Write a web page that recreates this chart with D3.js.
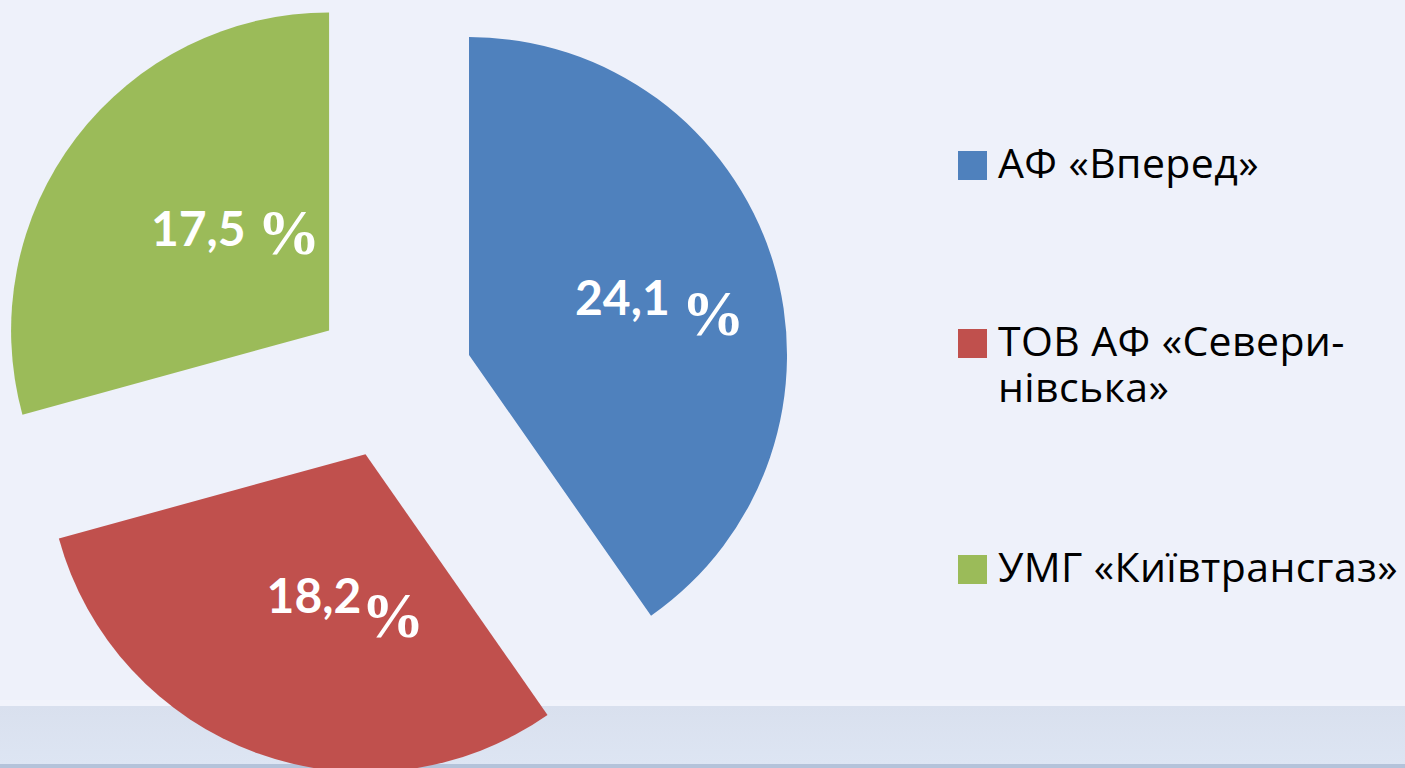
<!DOCTYPE html>
<html><head><meta charset="utf-8">
<script src="https://cdn.jsdelivr.net/npm/d3@7"></script>
<style>html,body{margin:0;padding:0;background:#eef1fa;overflow:hidden}</style>
</head><body>
<svg id="c" width="1405" height="768"></svg>
<script>
const categories = ["АФ «Вперед»", "ТОВ АФ «Севери-нівська»", "УМГ «Київтрансгаз»"];
const legendLines = [["АФ «Вперед»"], ["ТОВ АФ «Севери-", "нівська»"], ["УМГ «Київтрансгаз»"]];
const values = [24.1, 18.2, 17.5];
const valueLabels = ["24,1", "18,2", "17,5"];
const colors = ["#4f81bd", "#c0504d", "#9bbb59"];

const svg = d3.select("#c");
// background
svg.append("rect").attr("width",1405).attr("height",768).attr("fill","#eef1fa");
svg.append("rect").attr("y",700).attr("width",1405).attr("height",6).attr("fill","#f1f3fb");
const g0 = svg.append("defs").append("linearGradient").attr("id","band").attr("x1",0).attr("y1",0).attr("x2",0).attr("y2",1);
g0.append("stop").attr("offset",0).attr("stop-color","#d9e0ee");
g0.append("stop").attr("offset",1).attr("stop-color","#dde5f3");
svg.append("rect").attr("y",706).attr("width",1405).attr("height",58).attr("fill","url(#band)");
svg.append("rect").attr("y",764).attr("width",1405).attr("height",4).attr("fill","#b4c3da");

const cx = 392.7, cy = 379, R = 318, explode = 80;
const pie = d3.pie().sort(null).value(d => d)(values);
const arc = d3.arc().innerRadius(0).outerRadius(R);
const labelArc = d3.arc().innerRadius(0).outerRadius(R);
const labelNudge = [[39,-9],[34,-8],[33,-5]];
const pctShift = [20, 24, 8];

const pg = svg.append("g").attr("transform",`translate(${cx},${cy})`);
pie.forEach((p,i) => {
  const mid = (p.startAngle + p.endAngle)/2;
  const dx = Math.sin(mid)*explode, dy = -Math.cos(mid)*explode;
  const s = pg.append("g").attr("transform",`translate(${dx},${dy})`);
  s.append("path").attr("d", arc(p)).attr("fill", colors[i]);
  const c = labelArc.centroid(p);
  const t = s.append("text").attr("x", c[0]+labelNudge[i][0]).attr("y", c[1]+labelNudge[i][1]+17)
    .attr("text-anchor","middle").attr("fill","#fff");
  t.append("tspan").attr("font-family","Lato").attr("font-weight","bold").attr("font-size",48).text(valueLabels[i] + (i===1?"":" "));
  t.append("tspan").attr("font-family","Liberation Serif").attr("font-weight","bold").attr("font-size",63).attr("dy",pctShift[i]).text("%");
});

// legend
const legY = [151, 329, 555];
const lg = svg.append("g");
legendLines.forEach((lines,i) => {
  lg.append("rect").attr("x",958).attr("y",legY[i]).attr("width",29).attr("height",29).attr("fill",colors[i]);
  lines.forEach((ln,j) => {
    lg.append("text").attr("font-family","Open Sans").attr("font-size",41).attr("letter-spacing",0.4).attr("fill","#000")
      .attr("x",998).attr("y",legY[i]+27+j*46).text(ln);
  });
});
</script>
</body></html>
